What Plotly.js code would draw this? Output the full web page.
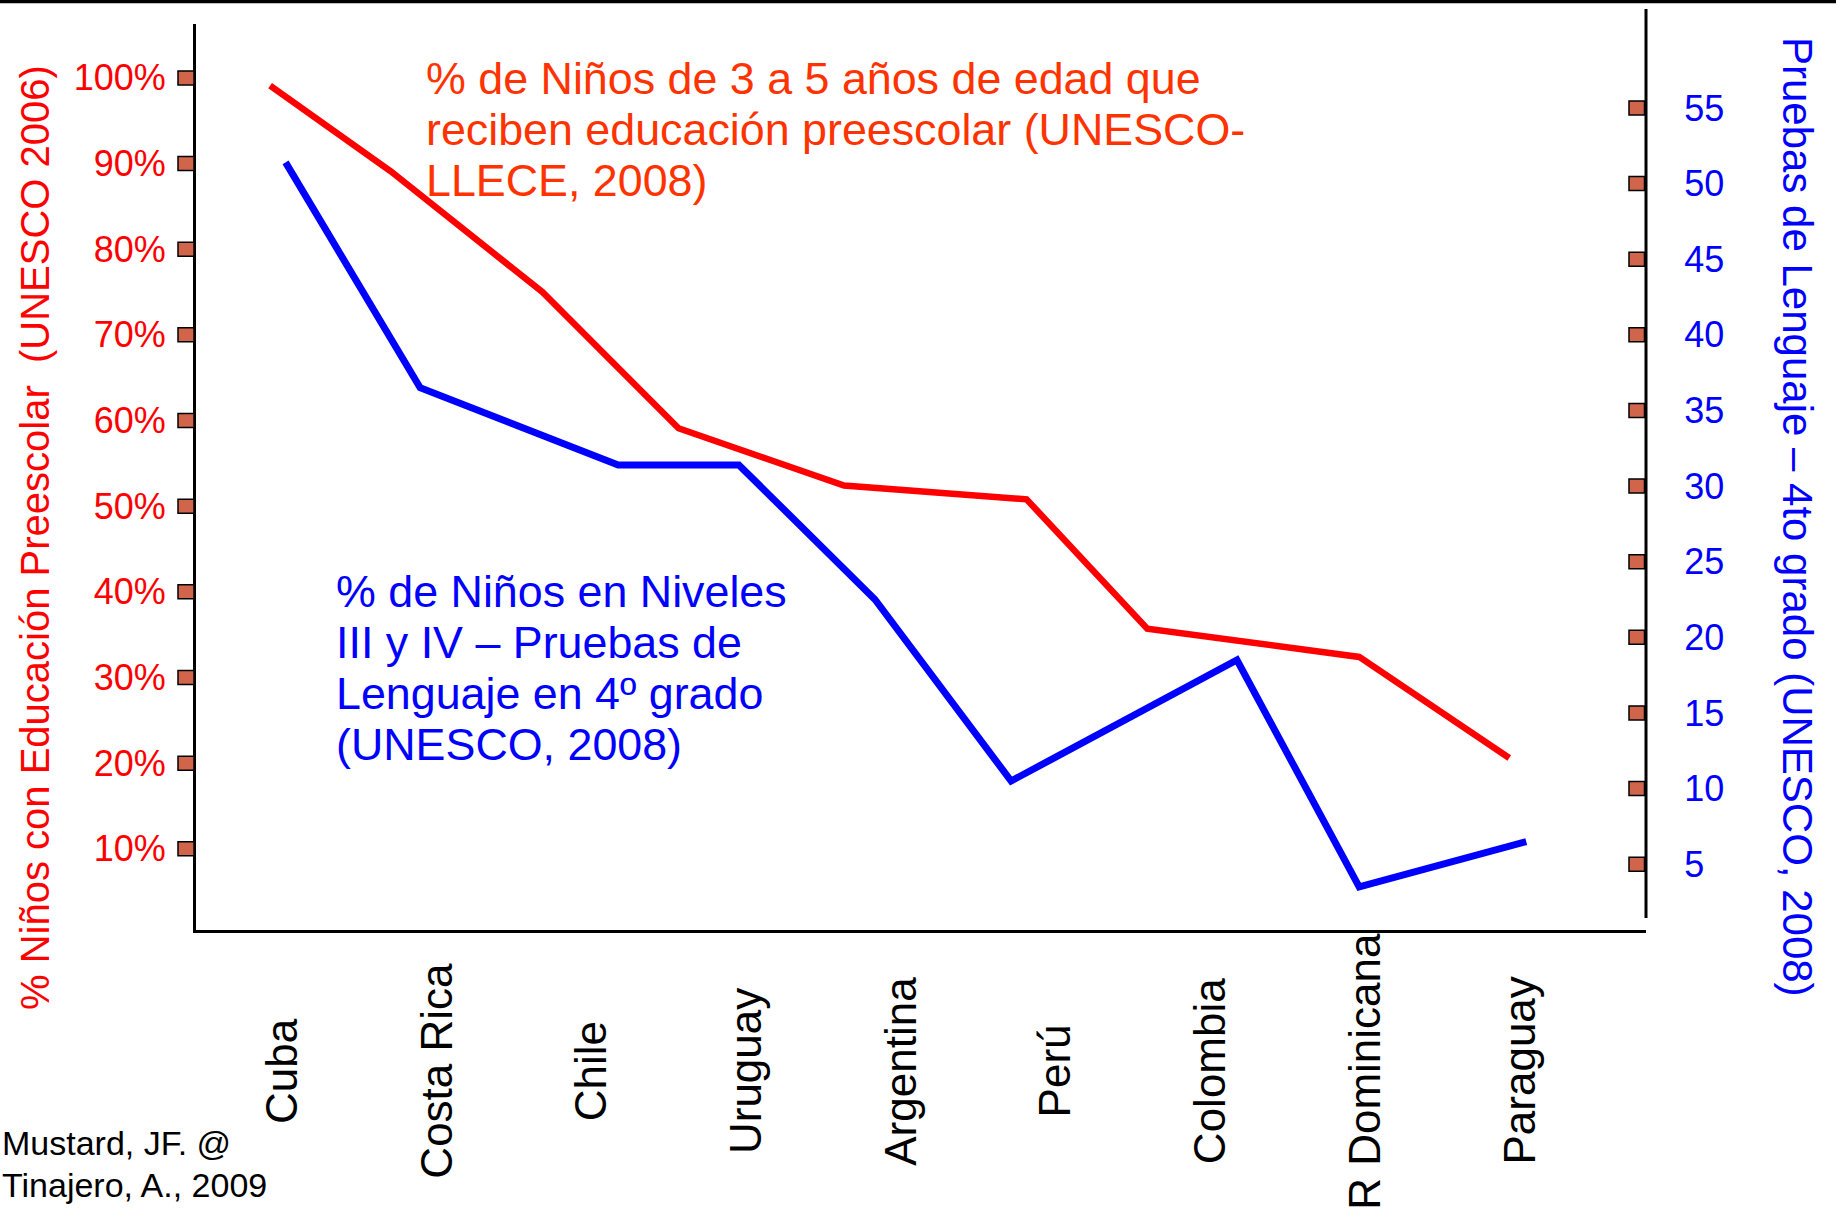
<!DOCTYPE html>
<html>
<head>
<meta charset="utf-8">
<script src="https://cdn.plot.ly/plotly-3.0.1.min.js"></script>
<style>
  html, body { margin: 0; padding: 0; background: #ffffff; }
  #chart { width: 1836px; height: 1210px; }
</style>
</head>
<body>
<div id="chart"></div>
<script>
// ---------------- data ----------------
const countries = ["Cuba", "Costa Rica", "Chile", "Uruguay", "Argentina", "Perú", "Colombia", "R Dominicana", "Paraguay"];

// % de niños con educación preescolar (UNESCO 2006) – left axis
const preescolarPct = [99.1, 89.1, 75.0, 59.1, 52.4, 50.8, 35.7, 32.4, 20.6];
// where each vertex of the red line sits along the country axis
const preescolarAt = [-0.07, 0.71, 1.69, 2.57, 3.64, 4.82, 5.60, 6.97, 7.94];

// % de niños en niveles III y IV – pruebas de lenguaje 4º grado – right axis
const lenguajePct = [51.4, 36.5, 31.4, 31.4, 22.5, 10.5, 18.5, 3.5, 6.5];
const lenguajeAt = [0.03, 0.90, 2.18, 2.96, 3.84, 4.72, 6.18, 6.97, 8.05];

const leftTickVals = [10, 20, 30, 40, 50, 60, 70, 80, 90, 100];
const leftTickText = ["10%", "20%", "30%", "40%", "50%", "60%", "70%", "80%", "90%", "100%"];
const rightTickVals = [5, 10, 15, 20, 25, 30, 35, 40, 45, 50, 55];
const rightTickText = ["5", "10", "15", "20", "25", "30", "35", "40", "45", "50", "55"];

const leftTitle = "% Niños con Educación Preescolar  (UNESCO 2006)";
const rightTitle = "Pruebas de Lenguaje – 4to grado (UNESCO, 2008)";
const redNote = ["% de Niños de 3 a 5 años de edad que", "reciben educación preescolar (UNESCO-", "LLECE, 2008)"];
const blueNote = ["% de Niños en Niveles", "III y IV – Pruebas de", "Lenguaje en 4º grado", "(UNESCO, 2008)"];
const credit = ["Mustard, JF. @", "Tinajero, A., 2009"];

// ---------------- layout helpers ----------------
const FONT = "Liberation Sans, Arial, Helvetica, sans-serif";
const L = 196, R = 190, T = 24, B = 280;
const W = 1836 - L - R, H = 1210 - T - B;
const px = x => (x - L) / W;       // page x pixel -> paper
const py = y => (T + H - y) / H;   // page y pixel -> paper

const traces = [
  {
    x: preescolarAt, y: preescolarPct, type: "scatter", mode: "lines",
    line: { color: "#FF0000", width: 6.5 },
    yaxis: "y", hoverinfo: "skip", showlegend: false
  },
  {
    x: lenguajeAt, y: lenguajePct, type: "scatter", mode: "lines",
    line: { color: "#0000FF", width: 7 },
    yaxis: "y2", hoverinfo: "skip", showlegend: false
  }
];

const annotations = [];
// country labels
countries.forEach((c, i) => {
  annotations.push({
    text: c, x: i, xref: "x", y: py(1071), yref: "paper",
    textangle: -90, showarrow: false, xanchor: "center", yanchor: "middle",
    font: { family: FONT, size: 44, color: "#000000" }
  });
});
// axis titles
annotations.push({
  text: leftTitle, x: px(35), xref: "paper", y: py(538), yref: "paper",
  textangle: -90, showarrow: false, xanchor: "center", yanchor: "middle",
  font: { family: FONT, size: 40, color: "#FF0000" }
});
annotations.push({
  text: rightTitle, x: px(1798), xref: "paper", y: py(517), yref: "paper",
  textangle: 90, showarrow: false, xanchor: "center", yanchor: "middle",
  font: { family: FONT, size: 42, color: "#0000FF" }
});
// in-chart notes
redNote.forEach((t, k) => {
  annotations.push({
    text: t, x: px(424), xref: "paper", y: py(78 + 51 * k), yref: "paper",
    showarrow: false, xanchor: "left", yanchor: "middle",
    font: { family: FONT, size: 44.8, color: "#FF3300" }
  });
});
blueNote.forEach((t, k) => {
  annotations.push({
    text: t, x: px(334), xref: "paper", y: py(591 + 51 * k), yref: "paper",
    showarrow: false, xanchor: "left", yanchor: "middle",
    font: { family: FONT, size: 44.8, color: "#0000FF" }
  });
});
credit.forEach((t, k) => {
  annotations.push({
    text: t, x: px(0), xref: "paper", y: py(1143 + 42 * k), yref: "paper",
    showarrow: false, xanchor: "left", yanchor: "middle",
    font: { family: FONT, size: 34, color: "#000000" }
  });
});

// tick rectangles (brown with black outline) and extra lines
const shapes = [];
leftTickVals.forEach(v => {
  shapes.push({
    type: "rect", xref: "paper", xsizemode: "pixel", xanchor: 0, x0: -18, x1: -2,
    yref: "y", ysizemode: "pixel", yanchor: v, y0: -7, y1: 7,
    fillcolor: "#D0654B", line: { color: "#000000", width: 1.5 }, layer: "above"
  });
});
rightTickVals.forEach(v => {
  shapes.push({
    type: "rect", xref: "paper", xsizemode: "pixel", xanchor: 1, x0: -17, x1: -1.5,
    yref: "y2", ysizemode: "pixel", yanchor: v, y0: -7, y1: 7,
    fillcolor: "#D0654B", line: { color: "#000000", width: 1.5 }, layer: "above"
  });
});
// right axis line (drawn taller than the plot area as in the original)
shapes.push({
  type: "line", xref: "paper", yref: "paper", x0: 1, x1: 1, y0: py(918), y1: py(9),
  line: { color: "#000000", width: 3 }
});
// top border line
shapes.push({
  type: "line", xref: "paper", yref: "paper", x0: px(0), x1: px(1836), y0: py(1.5), y1: py(1.5),
  line: { color: "#000000", width: 3.5 }
});

const layout = {
  width: 1836, height: 1210,
  margin: { l: L, r: R, t: T, b: B, pad: 0 },
  paper_bgcolor: "#ffffff", plot_bgcolor: "#ffffff",
  showlegend: false,
  font: { family: FONT },
  xaxis: {
    range: [-0.549, 8.824], showgrid: false, zeroline: false,
    showticklabels: false, ticks: "",
    showline: true, linecolor: "#000000", linewidth: 3
  },
  yaxis: {
    range: [0.52, 106.29], showgrid: false, zeroline: false,
    tickmode: "array", tickvals: leftTickVals, ticktext: leftTickText,
    ticks: "outside", ticklen: 20, tickcolor: "rgba(0,0,0,0)",
    tickfont: { family: FONT, size: 36, color: "#FF0000" },
    showline: true, linecolor: "#000000", linewidth: 3
  },
  yaxis2: {
    overlaying: "y", side: "right", anchor: "x",
    range: [0.65, 60.55], showgrid: false, zeroline: false,
    tickmode: "array", tickvals: rightTickVals, ticktext: rightTickText,
    ticks: "outside", ticklen: 30, tickcolor: "rgba(0,0,0,0)",
    tickfont: { family: FONT, size: 36, color: "#0000FF" },
    showline: false
  },
  annotations: annotations,
  shapes: shapes
};

Plotly.newPlot("chart", traces, layout, { displayModeBar: false, staticPlot: true });
</script>
</body>
</html>
